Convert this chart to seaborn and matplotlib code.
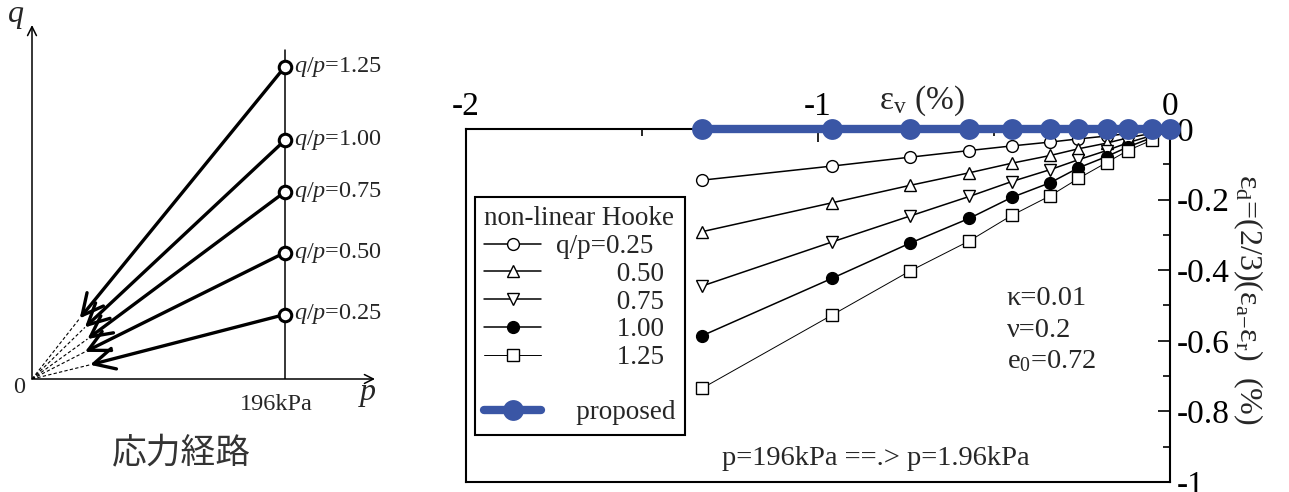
import numpy as np
import matplotlib
matplotlib.use("Agg")
import matplotlib.pyplot as plt
import seaborn as sns
from matplotlib.lines import Line2D

# --- DATA ---
# volumetric strain at each unloading step (%), same for all series
EV = [-1.33, -0.96, -0.74, -0.57, -0.45, -0.34, -0.26, -0.18, -0.12, -0.05, 0.0]
# deviatoric strain for the non-linear Hooke model, one list per q/p
ED_025 = [-0.145, -0.105, -0.080, -0.061, -0.048, -0.037, -0.028, -0.020, -0.013, -0.006, 0.0]
ED_050 = [-0.291, -0.209, -0.160, -0.124, -0.097, -0.075, -0.056, -0.040, -0.025, -0.012, 0.0]
ED_075 = [-0.445, -0.320, -0.247, -0.191, -0.149, -0.115, -0.087, -0.061, -0.039, -0.018, 0.0]
ED_100 = [-0.586, -0.423, -0.324, -0.253, -0.194, -0.152, -0.110, -0.078, -0.051, -0.024, 0.0]
ED_125 = [-0.735, -0.527, -0.403, -0.317, -0.245, -0.189, -0.140, -0.095, -0.061, -0.031, 0.0]
ED_PROPOSED = [0.0] * 11

LEGEND_LABELS = ["q/p=0.25", "0.50", "0.75", "1.00", "1.25", "proposed"]
X_TICKS = [-2, -1, 0]
X_TICK_LABELS = ["-2", "-1", "0"]
Y_TICKS = [-1.0, -0.8, -0.6, -0.4, -0.2, 0.0]
Y_TICK_LABELS = ["-1", "-0.8", "-0.6", "-0.4", "-0.2", "0"]

# stress path sketch (q vs p, kPa)
P_START = 196
Q_START = [50, 98, 145, 185, 242]
P_TIP = [45, 41, 43, 41, 37]
Q_TIP = [11, 21, 31, 40, 47]
PATH_LABELS = ["0.25", "0.50", "0.75", "1.00", "1.25"]

BLUE = "#3a56a5"
W, H = 1289, 492

sns.set_style("white")
plt.rcParams["font.family"] = ["Liberation Serif", "DejaVu Serif"]
plt.rcParams["mathtext.fontset"] = "custom"
plt.rcParams["mathtext.rm"] = "Liberation Serif"
plt.rcParams["mathtext.it"] = "Liberation Serif:italic"
plt.rcParams["axes.unicode_minus"] = False

fig = plt.figure(figsize=(W / 100, H / 100), dpi=100)

# --- RIGHT: strain chart ---
ax = fig.add_axes([466 / W, 1 - 482 / H, 704 / W, 353 / H])

styles = [
    (ED_025, "o", "white", 1.1),
    (ED_050, "^", "white", 1.1),
    (ED_075, "v", "white", 1.1),
    (ED_100, "o", "black", 1.1),
    (ED_125, "s", "white", 0.7),
]
handles = []
for vals, mk, fc, lw in styles:
    sns.lineplot(x=EV, y=vals, ax=ax, color="black", lw=lw, marker=mk,
                 markersize=8.5, markerfacecolor=fc, markeredgecolor="black",
                 markeredgewidth=1.0, clip_on=False, zorder=3)
    handles.append(ax.lines[-1])

sns.lineplot(x=EV, y=ED_PROPOSED, ax=ax, color=BLUE, lw=6, marker="o",
             markersize=15, markerfacecolor=BLUE, markeredgecolor=BLUE,
             markeredgewidth=0, clip_on=False, zorder=5,
             solid_capstyle="round")
handles.append(ax.lines[-1])

ax.set_xlim(-2, 0)
ax.set_ylim(-1, 0)
for s in ax.spines.values():
    s.set_color("black")
    s.set_linewidth(1.5)

ax.xaxis.tick_top()
ax.set_xticks(X_TICKS)
ax.set_xticklabels(X_TICK_LABELS)
ax.set_xticks([-1.5, -0.5], minor=True)
ax.tick_params(axis="x", which="both", direction="in", top=True, bottom=False,
               labeltop=True, labelbottom=False, width=1.2, colors="black",
               labelsize=24, pad=5)
ax.tick_params(axis="x", which="major", length=9)
ax.tick_params(axis="x", which="minor", length=5)

ax.yaxis.tick_right()
ax.set_yticks(Y_TICKS)
ax.set_yticklabels(Y_TICK_LABELS)
ax.set_yticks(np.arange(-0.9, 0, 0.2), minor=True)
ax.tick_params(axis="y", which="both", direction="in", right=True, left=False,
               labelright=True, labelleft=False, width=1.2, colors="black",
               labelsize=24, pad=5)
ax.tick_params(axis="y", which="major", length=9)
ax.tick_params(axis="y", which="minor", length=5)

ax.text(0.648, 1.079, r"ε$_{\mathrm{v}}$ (%)", transform=ax.transAxes,
        ha="center", va="center", fontsize=24)
ax.set_ylabel(r"ε$_{\mathrm{d}}$=(2/3)(ε$_{\mathrm{a}\mathrm{-}}$ε$_{\mathrm{r}}$)  (%)",
              rotation=270, fontsize=23, ha="center", va="center")
ax.yaxis.set_label_position("right")
ax.yaxis.set_label_coords(1.135, 0.516)

ax.text(0.768, (482 - 305) / 353, "κ=0.01", transform=ax.transAxes,
        ha="left", va="baseline", fontsize=20.5)
ax.text(0.768, (482 - 337) / 353, "ν=0.2", transform=ax.transAxes,
        ha="left", va="baseline", fontsize=20.5)
ax.text(0.768, (482 - 368) / 353, r"e$_0$=0.72", transform=ax.transAxes,
        ha="left", va="baseline", fontsize=20.5)
ax.text(0.3636, (482 - 465) / 353, "p=196kPa ==.> p=1.96kPa",
        transform=ax.transAxes, ha="left", va="baseline", fontsize=20.5)

blank = Line2D([], [], color="none")
pad = " " * 9
labels = [LEGEND_LABELS[0]] + [pad + t for t in LEGEND_LABELS[1:5]] + ["", "   " + LEGEND_LABELS[5]]
leg = ax.legend(handles[:5] + [blank, handles[5]], labels,
                title="non-linear Hooke", title_fontsize=19.5, fontsize=19.5,
                loc="upper left", bbox_to_anchor=(475 / W, 1 - 197 / H),
                bbox_transform=fig.transFigure, borderaxespad=0,
                frameon=True, fancybox=False, edgecolor="black", framealpha=1,
                handlelength=2.1, handletextpad=0.55, labelspacing=0.1,
                borderpad=0.35, alignment="left")
leg.get_frame().set_linewidth(1.5)

# --- LEFT: stress path sketch ---
sx = 1.29  # px per kPa
la = fig.add_axes([32 / W, 1 - 379 / H, 343 / W, 354 / H])
la.set_xlim(0, 343 / sx)
la.set_ylim(0, 354 / sx)
la.axis("off")

ax_arrow = dict(arrowstyle="->", lw=1.1, color="black", shrinkA=0, shrinkB=0,
                mutation_scale=16)
la.annotate("", xy=(0, 354 / sx), xytext=(0, 0), arrowprops=ax_arrow,
            annotation_clip=False)
la.annotate("", xy=(343 / sx, 0), xytext=(0, 0), arrowprops=ax_arrow,
            annotation_clip=False)
la.plot([P_START, P_START], [0, (379 - 50) / sx], color="black", lw=1.1)

for q0, pt, qt, lab in zip(Q_START, P_TIP, Q_TIP, PATH_LABELS):
    la.plot([0, pt], [0, qt], color="black", lw=0.8, ls=(0, (3, 2)))
    la.annotate("", xy=(pt, qt), xytext=(P_START, q0),
                arrowprops=dict(arrowstyle="->,head_length=0.75,head_width=0.38",
                                lw=2.4, color="black", shrinkA=5, shrinkB=0,
                                mutation_scale=20))
    la.text(P_START + 7, q0, r"$q/p$=" + lab, ha="left", va="center",
            fontsize=17.5)
la.plot([P_START] * len(Q_START), Q_START, "o", mfc="white", mec="black",
        ms=9, mew=2.2, zorder=5, clip_on=False)

la.text(-10, -6.5, "0", ha="center", va="center", fontsize=17.5)
la.text(189, -19.5, "196kPa", ha="center", va="center", fontsize=17.5)
la.text(260, -12, "$p$", ha="center", va="center", fontsize=23)
la.text(-12.5, 281, "$q$", ha="center", va="center", fontsize=23)

fig.text(181 / W, 1 - 454 / H, "応力経路", family=["Noto Sans CJK JP"],
         fontsize=25, color="#333333", ha="center", va="center")

fig.savefig("out.png", dpi=100)
